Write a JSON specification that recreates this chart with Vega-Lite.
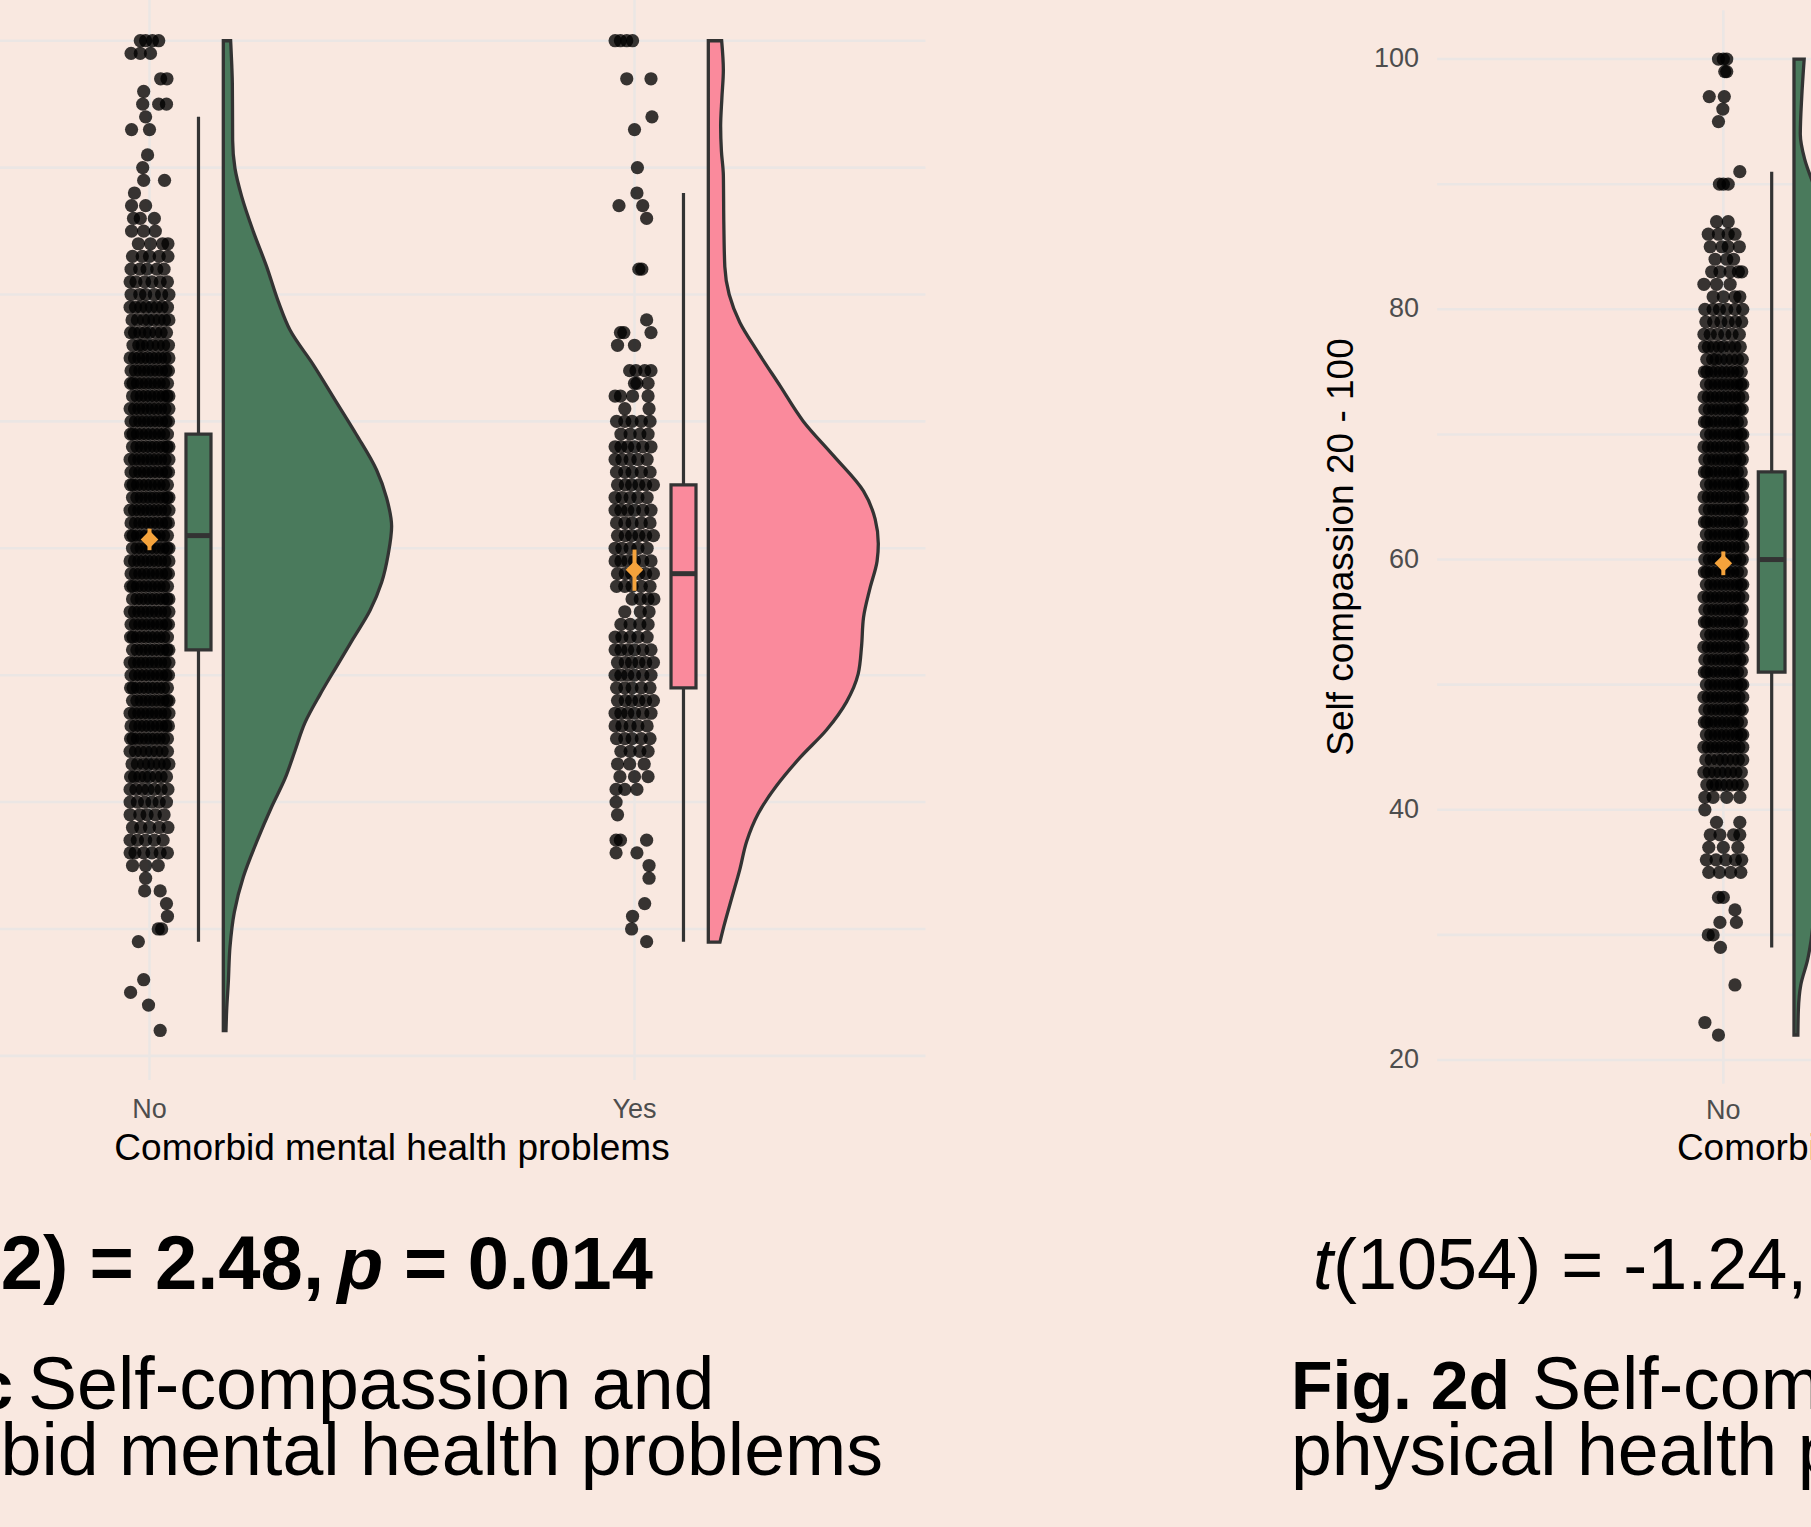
{
"$schema": "https://vega.github.io/schema/vega-lite/v6.json",
"width": 1811, "height": 1527, "autosize": "none", "padding": 0,
"background": "#F9E8E0",
"config": {"view": {"stroke": null}, "font": "Liberation Sans"},
"datasets": {
"grid": [{"v":20},{"v":30},{"v":40},{"v":50},{"v":60},{"v":70},{"v":80},{"v":90},{"v":100}],
"cno": [
{"s":100,"j":-0.019},{"s":100,"j":-0.008},{"s":100,"j":0.006},{"s":100,"j":0.019},
{"s":99,"j":-0.038},{"s":99,"j":-0.019},{"s":99,"j":0.002},
{"s":97,"j":0.023},{"s":97,"j":0.036},
{"s":96,"j":-0.012},
{"s":95,"j":-0.014},{"s":95,"j":0.019},{"s":95,"j":0.035},
{"s":94,"j":-0.008},
{"s":93,"j":-0.037},{"s":93,"j":0},
{"s":91,"j":-0.004},
{"s":90,"j":-0.014},
{"s":89,"j":-0.012},{"s":89,"j":0.031},
{"s":88,"j":-0.031},
{"s":87,"j":-0.037},{"s":87,"j":-0.008},
{"s":86,"j":-0.033},{"s":86,"j":-0.019},{"s":86,"j":0.01},
{"s":85,"j":-0.037},{"s":85,"j":-0.012},{"s":85,"j":0.012},
{"s":84,"j":-0.023},{"s":84,"j":0.002},{"s":84,"j":0.027},{"s":84,"j":0.038},
{"s":83,"j":-0.035},{"s":83,"j":-0.015},{"s":83,"j":0},{"s":83,"j":0.02},{"s":83,"j":0.038},
{"s":82,"j":-0.038},{"s":82,"j":-0.02},{"s":82,"j":-0.005},{"s":82,"j":0.015},{"s":82,"j":0.03},
{"s":81,"j":-0.04},{"s":81,"j":-0.028},{"s":81,"j":-0.01},{"s":81,"j":0.005},{"s":81,"j":0.022},{"s":81,"j":0.037},
{"s":80,"j":-0.038},{"s":80,"j":-0.02},{"s":80,"j":-0.008},{"s":80,"j":0.01},{"s":80,"j":0.025},{"s":80,"j":0.04},
{"s":79,"j":-0.04},{"s":79,"j":-0.029},{"s":79,"j":-0.018},{"s":79,"j":-0.007},{"s":79,"j":0.004},{"s":79,"j":0.015},{"s":79,"j":0.026},{"s":79,"j":0.037},
{"s":78,"j":-0.036},{"s":78,"j":-0.025},{"s":78,"j":-0.012},{"s":78,"j":-0.002},{"s":78,"j":0.009},{"s":78,"j":0.02},{"s":78,"j":0.031},{"s":78,"j":0.04},
{"s":77,"j":-0.039},{"s":77,"j":-0.031},{"s":77,"j":-0.02},{"s":77,"j":-0.009},{"s":77,"j":0},{"s":77,"j":0.013},{"s":77,"j":0.024},{"s":77,"j":0.035},
{"s":76,"j":-0.034},{"s":76,"j":-0.022},{"s":76,"j":-0.015},{"s":76,"j":-0.004},{"s":76,"j":0.007},{"s":76,"j":0.018},{"s":76,"j":0.029},{"s":76,"j":0.039},
{"s":75,"j":-0.04},{"s":75,"j":-0.031},{"s":75,"j":-0.022},{"s":75,"j":-0.013},{"s":75,"j":-0.004},{"s":75,"j":0.005},{"s":75,"j":0.014},{"s":75,"j":0.023},{"s":75,"j":0.032},{"s":75,"j":0.04},
{"s":74,"j":-0.038},{"s":74,"j":-0.029},{"s":74,"j":-0.02},{"s":74,"j":-0.011},{"s":74,"j":-0.002},{"s":74,"j":0.007},{"s":74,"j":0.016},{"s":74,"j":0.025},{"s":74,"j":0.034},{"s":74,"j":0.039},
{"s":73,"j":-0.039},{"s":73,"j":-0.034},{"s":73,"j":-0.025},{"s":73,"j":-0.016},{"s":73,"j":-0.007},{"s":73,"j":0.002},{"s":73,"j":0.011},{"s":73,"j":0.02},{"s":73,"j":0.029},{"s":73,"j":0.037},
{"s":72,"j":-0.035},{"s":72,"j":-0.026},{"s":72,"j":-0.017},{"s":72,"j":-0.008},{"s":72,"j":0.001},{"s":72,"j":0.01},{"s":72,"j":0.019},{"s":72,"j":0.028},{"s":72,"j":0.036},{"s":72,"j":0.04},
{"s":71,"j":-0.04},{"s":71,"j":-0.031},{"s":71,"j":-0.022},{"s":71,"j":-0.013},{"s":71,"j":-0.004},{"s":71,"j":0.005},{"s":71,"j":0.014},{"s":71,"j":0.023},{"s":71,"j":0.032},{"s":71,"j":0.04},
{"s":70,"j":-0.038},{"s":70,"j":-0.029},{"s":70,"j":-0.02},{"s":70,"j":-0.011},{"s":70,"j":-0.002},{"s":70,"j":0.007},{"s":70,"j":0.016},{"s":70,"j":0.025},{"s":70,"j":0.034},{"s":70,"j":0.039},
{"s":69,"j":-0.039},{"s":69,"j":-0.034},{"s":69,"j":-0.025},{"s":69,"j":-0.016},{"s":69,"j":-0.007},{"s":69,"j":0.002},{"s":69,"j":0.011},{"s":69,"j":0.02},{"s":69,"j":0.029},{"s":69,"j":0.037},
{"s":68,"j":-0.035},{"s":68,"j":-0.026},{"s":68,"j":-0.017},{"s":68,"j":-0.008},{"s":68,"j":0.001},{"s":68,"j":0.01},{"s":68,"j":0.019},{"s":68,"j":0.028},{"s":68,"j":0.036},{"s":68,"j":0.04},
{"s":67,"j":-0.04},{"s":67,"j":-0.031},{"s":67,"j":-0.022},{"s":67,"j":-0.013},{"s":67,"j":-0.004},{"s":67,"j":0.005},{"s":67,"j":0.014},{"s":67,"j":0.023},{"s":67,"j":0.032},{"s":67,"j":0.04},
{"s":66,"j":-0.038},{"s":66,"j":-0.029},{"s":66,"j":-0.02},{"s":66,"j":-0.011},{"s":66,"j":-0.002},{"s":66,"j":0.007},{"s":66,"j":0.016},{"s":66,"j":0.025},{"s":66,"j":0.034},{"s":66,"j":0.039},
{"s":65,"j":-0.039},{"s":65,"j":-0.034},{"s":65,"j":-0.025},{"s":65,"j":-0.016},{"s":65,"j":-0.007},{"s":65,"j":0.002},{"s":65,"j":0.011},{"s":65,"j":0.02},{"s":65,"j":0.029},{"s":65,"j":0.037},
{"s":64,"j":-0.035},{"s":64,"j":-0.026},{"s":64,"j":-0.017},{"s":64,"j":-0.008},{"s":64,"j":0.001},{"s":64,"j":0.01},{"s":64,"j":0.019},{"s":64,"j":0.028},{"s":64,"j":0.036},{"s":64,"j":0.04},
{"s":63,"j":-0.04},{"s":63,"j":-0.031},{"s":63,"j":-0.022},{"s":63,"j":-0.013},{"s":63,"j":-0.004},{"s":63,"j":0.005},{"s":63,"j":0.014},{"s":63,"j":0.023},{"s":63,"j":0.032},{"s":63,"j":0.04},
{"s":62,"j":-0.038},{"s":62,"j":-0.029},{"s":62,"j":-0.02},{"s":62,"j":-0.011},{"s":62,"j":-0.002},{"s":62,"j":0.007},{"s":62,"j":0.016},{"s":62,"j":0.025},{"s":62,"j":0.034},{"s":62,"j":0.039},
{"s":61,"j":-0.039},{"s":61,"j":-0.034},{"s":61,"j":-0.025},{"s":61,"j":-0.016},{"s":61,"j":-0.007},{"s":61,"j":0.002},{"s":61,"j":0.011},{"s":61,"j":0.02},{"s":61,"j":0.029},{"s":61,"j":0.037},
{"s":60,"j":-0.035},{"s":60,"j":-0.026},{"s":60,"j":-0.017},{"s":60,"j":-0.008},{"s":60,"j":0.001},{"s":60,"j":0.01},{"s":60,"j":0.019},{"s":60,"j":0.028},{"s":60,"j":0.036},{"s":60,"j":0.04},
{"s":59,"j":-0.04},{"s":59,"j":-0.031},{"s":59,"j":-0.022},{"s":59,"j":-0.013},{"s":59,"j":-0.004},{"s":59,"j":0.005},{"s":59,"j":0.014},{"s":59,"j":0.023},{"s":59,"j":0.032},{"s":59,"j":0.04},
{"s":58,"j":-0.038},{"s":58,"j":-0.029},{"s":58,"j":-0.02},{"s":58,"j":-0.011},{"s":58,"j":-0.002},{"s":58,"j":0.007},{"s":58,"j":0.016},{"s":58,"j":0.025},{"s":58,"j":0.034},{"s":58,"j":0.039},
{"s":57,"j":-0.039},{"s":57,"j":-0.034},{"s":57,"j":-0.025},{"s":57,"j":-0.016},{"s":57,"j":-0.007},{"s":57,"j":0.002},{"s":57,"j":0.011},{"s":57,"j":0.02},{"s":57,"j":0.029},{"s":57,"j":0.037},
{"s":56,"j":-0.035},{"s":56,"j":-0.026},{"s":56,"j":-0.017},{"s":56,"j":-0.008},{"s":56,"j":0.001},{"s":56,"j":0.01},{"s":56,"j":0.019},{"s":56,"j":0.028},{"s":56,"j":0.036},{"s":56,"j":0.04},
{"s":55,"j":-0.04},{"s":55,"j":-0.031},{"s":55,"j":-0.022},{"s":55,"j":-0.013},{"s":55,"j":-0.004},{"s":55,"j":0.005},{"s":55,"j":0.014},{"s":55,"j":0.023},{"s":55,"j":0.032},{"s":55,"j":0.04},
{"s":54,"j":-0.038},{"s":54,"j":-0.029},{"s":54,"j":-0.02},{"s":54,"j":-0.011},{"s":54,"j":-0.002},{"s":54,"j":0.007},{"s":54,"j":0.016},{"s":54,"j":0.025},{"s":54,"j":0.034},{"s":54,"j":0.039},
{"s":53,"j":-0.039},{"s":53,"j":-0.034},{"s":53,"j":-0.025},{"s":53,"j":-0.016},{"s":53,"j":-0.007},{"s":53,"j":0.002},{"s":53,"j":0.011},{"s":53,"j":0.02},{"s":53,"j":0.029},{"s":53,"j":0.037},
{"s":52,"j":-0.035},{"s":52,"j":-0.026},{"s":52,"j":-0.017},{"s":52,"j":-0.008},{"s":52,"j":0.001},{"s":52,"j":0.01},{"s":52,"j":0.019},{"s":52,"j":0.028},{"s":52,"j":0.036},{"s":52,"j":0.04},
{"s":51,"j":-0.04},{"s":51,"j":-0.031},{"s":51,"j":-0.022},{"s":51,"j":-0.013},{"s":51,"j":-0.004},{"s":51,"j":0.005},{"s":51,"j":0.014},{"s":51,"j":0.023},{"s":51,"j":0.032},{"s":51,"j":0.04},
{"s":50,"j":-0.038},{"s":50,"j":-0.029},{"s":50,"j":-0.02},{"s":50,"j":-0.011},{"s":50,"j":-0.002},{"s":50,"j":0.007},{"s":50,"j":0.016},{"s":50,"j":0.025},{"s":50,"j":0.034},{"s":50,"j":0.039},
{"s":49,"j":-0.039},{"s":49,"j":-0.034},{"s":49,"j":-0.025},{"s":49,"j":-0.016},{"s":49,"j":-0.007},{"s":49,"j":0.002},{"s":49,"j":0.011},{"s":49,"j":0.02},{"s":49,"j":0.029},{"s":49,"j":0.037},
{"s":48,"j":-0.035},{"s":48,"j":-0.026},{"s":48,"j":-0.017},{"s":48,"j":-0.008},{"s":48,"j":0.001},{"s":48,"j":0.01},{"s":48,"j":0.019},{"s":48,"j":0.028},{"s":48,"j":0.036},{"s":48,"j":0.04},
{"s":47,"j":-0.04},{"s":47,"j":-0.031},{"s":47,"j":-0.022},{"s":47,"j":-0.013},{"s":47,"j":-0.004},{"s":47,"j":0.005},{"s":47,"j":0.014},{"s":47,"j":0.023},{"s":47,"j":0.032},{"s":47,"j":0.04},
{"s":46,"j":-0.038},{"s":46,"j":-0.029},{"s":46,"j":-0.02},{"s":46,"j":-0.011},{"s":46,"j":-0.002},{"s":46,"j":0.007},{"s":46,"j":0.016},{"s":46,"j":0.025},{"s":46,"j":0.034},{"s":46,"j":0.039},
{"s":45,"j":-0.039},{"s":45,"j":-0.034},{"s":45,"j":-0.025},{"s":45,"j":-0.016},{"s":45,"j":-0.007},{"s":45,"j":0.002},{"s":45,"j":0.011},{"s":45,"j":0.02},{"s":45,"j":0.029},{"s":45,"j":0.037},
{"s":44,"j":-0.04},{"s":44,"j":-0.029},{"s":44,"j":-0.018},{"s":44,"j":-0.007},{"s":44,"j":0.004},{"s":44,"j":0.015},{"s":44,"j":0.026},{"s":44,"j":0.037},
{"s":43,"j":-0.036},{"s":43,"j":-0.025},{"s":43,"j":-0.012},{"s":43,"j":-0.002},{"s":43,"j":0.009},{"s":43,"j":0.02},{"s":43,"j":0.031},{"s":43,"j":0.04},
{"s":42,"j":-0.039},{"s":42,"j":-0.031},{"s":42,"j":-0.02},{"s":42,"j":-0.009},{"s":42,"j":0},{"s":42,"j":0.013},{"s":42,"j":0.024},{"s":42,"j":0.035},
{"s":41,"j":-0.04},{"s":41,"j":-0.028},{"s":41,"j":-0.015},{"s":41,"j":-0.003},{"s":41,"j":0.01},{"s":41,"j":0.024},{"s":41,"j":0.038},
{"s":40,"j":-0.04},{"s":40,"j":-0.025},{"s":40,"j":-0.01},{"s":40,"j":0.005},{"s":40,"j":0.02},{"s":40,"j":0.035},
{"s":39,"j":-0.04},{"s":39,"j":-0.02},{"s":39,"j":-0.005},{"s":39,"j":0.012},{"s":39,"j":0.03},
{"s":38,"j":-0.035},{"s":38,"j":-0.018},{"s":38,"j":0},{"s":38,"j":0.02},{"s":38,"j":0.038},
{"s":37,"j":-0.04},{"s":37,"j":-0.025},{"s":37,"j":-0.008},{"s":37,"j":0.01},{"s":37,"j":0.028},
{"s":36,"j":-0.04},{"s":36,"j":-0.03},{"s":36,"j":-0.012},{"s":36,"j":0.005},{"s":36,"j":0.022},{"s":36,"j":0.037},
{"s":35,"j":-0.035},{"s":35,"j":-0.008},{"s":35,"j":0.018},
{"s":34,"j":-0.008},
{"s":33,"j":-0.01},{"s":33,"j":0.022},
{"s":32,"j":0.035},
{"s":31,"j":0.037},
{"s":30,"j":0.018},{"s":30,"j":0.025},
{"s":29,"j":-0.023},
{"s":26,"j":-0.012},
{"s":25,"j":-0.039},
{"s":24,"j":-0.002},
{"s":22,"j":0.022}
],
"cyes": [
{"s":100,"j":-0.04},{"s":100,"j":-0.029},{"s":100,"j":-0.016},{"s":100,"j":-0.004},
{"s":97,"j":-0.016},{"s":97,"j":0.034},
{"s":94,"j":0.036},
{"s":93,"j":0},
{"s":90,"j":0.006},
{"s":88,"j":0.005},
{"s":87,"j":-0.032},{"s":87,"j":0.017},
{"s":86,"j":0.025},
{"s":82,"j":0.009},{"s":82,"j":0.015},
{"s":78,"j":0.025},
{"s":77,"j":-0.029},{"s":77,"j":-0.022},{"s":77,"j":0.034},
{"s":76,"j":-0.035},{"s":76,"j":0},
{"s":74,"j":-0.01},{"s":74,"j":0.003},{"s":74,"j":0.021},{"s":74,"j":0.034},
{"s":73,"j":0},{"s":73,"j":0.005},{"s":73,"j":0.028},
{"s":72,"j":-0.04},{"s":72,"j":-0.029},{"s":72,"j":-0.004},{"s":72,"j":0.028},
{"s":71,"j":-0.02},{"s":71,"j":0.03},
{"s":70,"j":-0.037},{"s":70,"j":-0.02},{"s":70,"j":-0.005},{"s":70,"j":0.014},{"s":70,"j":0.032},
{"s":69,"j":-0.028},{"s":69,"j":-0.009},{"s":69,"j":0.011},{"s":69,"j":0.028},
{"s":68,"j":-0.04},{"s":68,"j":-0.028},{"s":68,"j":-0.014},{"s":68,"j":0},{"s":68,"j":0.017},{"s":68,"j":0.034},
{"s":67,"j":-0.04},{"s":67,"j":-0.026},{"s":67,"j":-0.009},{"s":67,"j":0.007},{"s":67,"j":0.026},
{"s":66,"j":-0.037},{"s":66,"j":-0.02},{"s":66,"j":-0.005},{"s":66,"j":0.014},{"s":66,"j":0.032},
{"s":65,"j":-0.035},{"s":65,"j":-0.019},{"s":65,"j":-0.006},{"s":65,"j":0.009},{"s":65,"j":0.023},{"s":65,"j":0.039},
{"s":64,"j":-0.04},{"s":64,"j":-0.026},{"s":64,"j":-0.009},{"s":64,"j":0.007},{"s":64,"j":0.026},
{"s":63,"j":-0.04},{"s":63,"j":-0.028},{"s":63,"j":-0.014},{"s":63,"j":0},{"s":63,"j":0.017},{"s":63,"j":0.034},
{"s":62,"j":-0.037},{"s":62,"j":-0.02},{"s":62,"j":-0.005},{"s":62,"j":0.014},{"s":62,"j":0.032},
{"s":61,"j":-0.035},{"s":61,"j":-0.019},{"s":61,"j":-0.006},{"s":61,"j":0.009},{"s":61,"j":0.023},{"s":61,"j":0.039},
{"s":60,"j":-0.04},{"s":60,"j":-0.026},{"s":60,"j":-0.009},{"s":60,"j":0.007},{"s":60,"j":0.026},
{"s":59,"j":-0.04},{"s":59,"j":-0.028},{"s":59,"j":-0.014},{"s":59,"j":0},{"s":59,"j":0.017},{"s":59,"j":0.034},
{"s":58,"j":-0.035},{"s":58,"j":-0.019},{"s":58,"j":-0.006},{"s":58,"j":0.009},{"s":58,"j":0.023},{"s":58,"j":0.039},
{"s":57,"j":-0.037},{"s":57,"j":-0.02},{"s":57,"j":-0.005},{"s":57,"j":0.014},{"s":57,"j":0.032},
{"s":56,"j":-0.005},{"s":56,"j":0.012},{"s":56,"j":0.028},{"s":56,"j":0.04},
{"s":55,"j":-0.02},{"s":55,"j":0.012},{"s":55,"j":0.03},
{"s":54,"j":-0.028},{"s":54,"j":-0.009},{"s":54,"j":0.011},{"s":54,"j":0.028},
{"s":53,"j":-0.04},{"s":53,"j":-0.026},{"s":53,"j":-0.009},{"s":53,"j":0.007},{"s":53,"j":0.026},
{"s":52,"j":-0.04},{"s":52,"j":-0.028},{"s":52,"j":-0.014},{"s":52,"j":0},{"s":52,"j":0.017},{"s":52,"j":0.034},
{"s":51,"j":-0.035},{"s":51,"j":-0.019},{"s":51,"j":-0.006},{"s":51,"j":0.009},{"s":51,"j":0.023},{"s":51,"j":0.039},
{"s":50,"j":-0.04},{"s":50,"j":-0.028},{"s":50,"j":-0.014},{"s":50,"j":0},{"s":50,"j":0.017},{"s":50,"j":0.034},
{"s":49,"j":-0.037},{"s":49,"j":-0.02},{"s":49,"j":-0.005},{"s":49,"j":0.014},{"s":49,"j":0.032},
{"s":48,"j":-0.035},{"s":48,"j":-0.019},{"s":48,"j":-0.006},{"s":48,"j":0.009},{"s":48,"j":0.023},{"s":48,"j":0.039},
{"s":47,"j":-0.04},{"s":47,"j":-0.028},{"s":47,"j":-0.014},{"s":47,"j":0},{"s":47,"j":0.017},{"s":47,"j":0.034},
{"s":46,"j":-0.04},{"s":46,"j":-0.026},{"s":46,"j":-0.009},{"s":46,"j":0.007},{"s":46,"j":0.026},
{"s":45,"j":-0.037},{"s":45,"j":-0.02},{"s":45,"j":-0.005},{"s":45,"j":0.014},{"s":45,"j":0.032},
{"s":44,"j":-0.028},{"s":44,"j":-0.009},{"s":44,"j":0.011},{"s":44,"j":0.028},
{"s":43,"j":-0.035},{"s":43,"j":-0.01},{"s":43,"j":0.02},
{"s":42,"j":-0.03},{"s":42,"j":0},{"s":42,"j":0.028},
{"s":41,"j":-0.038},{"s":41,"j":-0.02},{"s":41,"j":0.005},
{"s":40,"j":-0.038},
{"s":39,"j":-0.035},
{"s":37,"j":-0.038},{"s":37,"j":-0.029},{"s":37,"j":0.025},
{"s":36,"j":-0.038},{"s":36,"j":0.005},
{"s":35,"j":0.03},
{"s":34,"j":0.03},
{"s":32,"j":0.021},
{"s":31,"j":-0.004},
{"s":30,"j":-0.006},
{"s":29,"j":0.025}
],
"dno": [
{"s":100,"j":-0.01},{"s":100,"j":0},{"s":100,"j":0.007},
{"s":99,"j":0.003},{"s":99,"j":0.007},
{"s":97,"j":-0.029},{"s":97,"j":0.002},
{"s":96,"j":-0.001},
{"s":95,"j":-0.01},
{"s":91,"j":0.034},
{"s":90,"j":-0.008},{"s":90,"j":0},{"s":90,"j":0.01},
{"s":87,"j":-0.014},{"s":87,"j":0.01},
{"s":86,"j":-0.031},{"s":86,"j":-0.01},{"s":86,"j":0.01},{"s":86,"j":0.024},
{"s":85,"j":-0.027},{"s":85,"j":-0.003},{"s":85,"j":0.01},{"s":85,"j":0.033},
{"s":84,"j":-0.017},{"s":84,"j":0.007},{"s":84,"j":0.021},
{"s":83,"j":-0.024},{"s":83,"j":-0.007},{"s":83,"j":0.014},{"s":83,"j":0.031},{"s":83,"j":0.038},
{"s":82,"j":-0.04},{"s":82,"j":-0.014},{"s":82,"j":0.014},
{"s":81,"j":-0.021},{"s":81,"j":0},{"s":81,"j":0.024},{"s":81,"j":0.034},
{"s":80,"j":-0.038},{"s":80,"j":-0.021},{"s":80,"j":-0.008},{"s":80,"j":0.007},{"s":80,"j":0.024},{"s":80,"j":0.04},
{"s":79,"j":-0.036},{"s":79,"j":-0.02},{"s":79,"j":-0.005},{"s":79,"j":0.01},{"s":79,"j":0.025},{"s":79,"j":0.038},
{"s":78,"j":-0.04},{"s":78,"j":-0.027},{"s":78,"j":-0.012},{"s":78,"j":0.003},{"s":78,"j":0.018},{"s":78,"j":0.033},
{"s":77,"j":-0.039},{"s":77,"j":-0.031},{"s":77,"j":-0.02},{"s":77,"j":-0.009},{"s":77,"j":0},{"s":77,"j":0.013},{"s":77,"j":0.024},{"s":77,"j":0.035},
{"s":76,"j":-0.034},{"s":76,"j":-0.022},{"s":76,"j":-0.015},{"s":76,"j":-0.004},{"s":76,"j":0.007},{"s":76,"j":0.018},{"s":76,"j":0.029},{"s":76,"j":0.039},
{"s":75,"j":-0.039},{"s":75,"j":-0.034},{"s":75,"j":-0.025},{"s":75,"j":-0.016},{"s":75,"j":-0.007},{"s":75,"j":0.002},{"s":75,"j":0.011},{"s":75,"j":0.02},{"s":75,"j":0.029},{"s":75,"j":0.037},
{"s":74,"j":-0.035},{"s":74,"j":-0.026},{"s":74,"j":-0.017},{"s":74,"j":-0.008},{"s":74,"j":0.001},{"s":74,"j":0.01},{"s":74,"j":0.019},{"s":74,"j":0.028},{"s":74,"j":0.036},{"s":74,"j":0.04},
{"s":73,"j":-0.04},{"s":73,"j":-0.031},{"s":73,"j":-0.022},{"s":73,"j":-0.013},{"s":73,"j":-0.004},{"s":73,"j":0.005},{"s":73,"j":0.014},{"s":73,"j":0.023},{"s":73,"j":0.032},{"s":73,"j":0.04},
{"s":72,"j":-0.038},{"s":72,"j":-0.029},{"s":72,"j":-0.02},{"s":72,"j":-0.011},{"s":72,"j":-0.002},{"s":72,"j":0.007},{"s":72,"j":0.016},{"s":72,"j":0.025},{"s":72,"j":0.034},{"s":72,"j":0.039},
{"s":71,"j":-0.039},{"s":71,"j":-0.034},{"s":71,"j":-0.025},{"s":71,"j":-0.016},{"s":71,"j":-0.007},{"s":71,"j":0.002},{"s":71,"j":0.011},{"s":71,"j":0.02},{"s":71,"j":0.029},{"s":71,"j":0.037},
{"s":70,"j":-0.035},{"s":70,"j":-0.026},{"s":70,"j":-0.017},{"s":70,"j":-0.008},{"s":70,"j":0.001},{"s":70,"j":0.01},{"s":70,"j":0.019},{"s":70,"j":0.028},{"s":70,"j":0.036},{"s":70,"j":0.04},
{"s":69,"j":-0.04},{"s":69,"j":-0.031},{"s":69,"j":-0.022},{"s":69,"j":-0.013},{"s":69,"j":-0.004},{"s":69,"j":0.005},{"s":69,"j":0.014},{"s":69,"j":0.023},{"s":69,"j":0.032},{"s":69,"j":0.04},
{"s":68,"j":-0.038},{"s":68,"j":-0.029},{"s":68,"j":-0.02},{"s":68,"j":-0.011},{"s":68,"j":-0.002},{"s":68,"j":0.007},{"s":68,"j":0.016},{"s":68,"j":0.025},{"s":68,"j":0.034},{"s":68,"j":0.039},
{"s":67,"j":-0.039},{"s":67,"j":-0.034},{"s":67,"j":-0.025},{"s":67,"j":-0.016},{"s":67,"j":-0.007},{"s":67,"j":0.002},{"s":67,"j":0.011},{"s":67,"j":0.02},{"s":67,"j":0.029},{"s":67,"j":0.037},
{"s":66,"j":-0.035},{"s":66,"j":-0.026},{"s":66,"j":-0.017},{"s":66,"j":-0.008},{"s":66,"j":0.001},{"s":66,"j":0.01},{"s":66,"j":0.019},{"s":66,"j":0.028},{"s":66,"j":0.036},{"s":66,"j":0.04},
{"s":65,"j":-0.04},{"s":65,"j":-0.031},{"s":65,"j":-0.022},{"s":65,"j":-0.013},{"s":65,"j":-0.004},{"s":65,"j":0.005},{"s":65,"j":0.014},{"s":65,"j":0.023},{"s":65,"j":0.032},{"s":65,"j":0.04},
{"s":64,"j":-0.038},{"s":64,"j":-0.029},{"s":64,"j":-0.02},{"s":64,"j":-0.011},{"s":64,"j":-0.002},{"s":64,"j":0.007},{"s":64,"j":0.016},{"s":64,"j":0.025},{"s":64,"j":0.034},{"s":64,"j":0.039},
{"s":63,"j":-0.039},{"s":63,"j":-0.034},{"s":63,"j":-0.025},{"s":63,"j":-0.016},{"s":63,"j":-0.007},{"s":63,"j":0.002},{"s":63,"j":0.011},{"s":63,"j":0.02},{"s":63,"j":0.029},{"s":63,"j":0.037},
{"s":62,"j":-0.035},{"s":62,"j":-0.026},{"s":62,"j":-0.017},{"s":62,"j":-0.008},{"s":62,"j":0.001},{"s":62,"j":0.01},{"s":62,"j":0.019},{"s":62,"j":0.028},{"s":62,"j":0.036},{"s":62,"j":0.04},
{"s":61,"j":-0.04},{"s":61,"j":-0.031},{"s":61,"j":-0.022},{"s":61,"j":-0.013},{"s":61,"j":-0.004},{"s":61,"j":0.005},{"s":61,"j":0.014},{"s":61,"j":0.023},{"s":61,"j":0.032},{"s":61,"j":0.04},
{"s":60,"j":-0.038},{"s":60,"j":-0.029},{"s":60,"j":-0.02},{"s":60,"j":-0.011},{"s":60,"j":-0.002},{"s":60,"j":0.007},{"s":60,"j":0.016},{"s":60,"j":0.025},{"s":60,"j":0.034},{"s":60,"j":0.039},
{"s":59,"j":-0.039},{"s":59,"j":-0.034},{"s":59,"j":-0.025},{"s":59,"j":-0.016},{"s":59,"j":-0.007},{"s":59,"j":0.002},{"s":59,"j":0.011},{"s":59,"j":0.02},{"s":59,"j":0.029},{"s":59,"j":0.037},
{"s":58,"j":-0.035},{"s":58,"j":-0.026},{"s":58,"j":-0.017},{"s":58,"j":-0.008},{"s":58,"j":0.001},{"s":58,"j":0.01},{"s":58,"j":0.019},{"s":58,"j":0.028},{"s":58,"j":0.036},{"s":58,"j":0.04},
{"s":57,"j":-0.04},{"s":57,"j":-0.031},{"s":57,"j":-0.022},{"s":57,"j":-0.013},{"s":57,"j":-0.004},{"s":57,"j":0.005},{"s":57,"j":0.014},{"s":57,"j":0.023},{"s":57,"j":0.032},{"s":57,"j":0.04},
{"s":56,"j":-0.038},{"s":56,"j":-0.029},{"s":56,"j":-0.02},{"s":56,"j":-0.011},{"s":56,"j":-0.002},{"s":56,"j":0.007},{"s":56,"j":0.016},{"s":56,"j":0.025},{"s":56,"j":0.034},{"s":56,"j":0.039},
{"s":55,"j":-0.039},{"s":55,"j":-0.034},{"s":55,"j":-0.025},{"s":55,"j":-0.016},{"s":55,"j":-0.007},{"s":55,"j":0.002},{"s":55,"j":0.011},{"s":55,"j":0.02},{"s":55,"j":0.029},{"s":55,"j":0.037},
{"s":54,"j":-0.035},{"s":54,"j":-0.026},{"s":54,"j":-0.017},{"s":54,"j":-0.008},{"s":54,"j":0.001},{"s":54,"j":0.01},{"s":54,"j":0.019},{"s":54,"j":0.028},{"s":54,"j":0.036},{"s":54,"j":0.04},
{"s":53,"j":-0.04},{"s":53,"j":-0.031},{"s":53,"j":-0.022},{"s":53,"j":-0.013},{"s":53,"j":-0.004},{"s":53,"j":0.005},{"s":53,"j":0.014},{"s":53,"j":0.023},{"s":53,"j":0.032},{"s":53,"j":0.04},
{"s":52,"j":-0.038},{"s":52,"j":-0.029},{"s":52,"j":-0.02},{"s":52,"j":-0.011},{"s":52,"j":-0.002},{"s":52,"j":0.007},{"s":52,"j":0.016},{"s":52,"j":0.025},{"s":52,"j":0.034},{"s":52,"j":0.039},
{"s":51,"j":-0.039},{"s":51,"j":-0.034},{"s":51,"j":-0.025},{"s":51,"j":-0.016},{"s":51,"j":-0.007},{"s":51,"j":0.002},{"s":51,"j":0.011},{"s":51,"j":0.02},{"s":51,"j":0.029},{"s":51,"j":0.037},
{"s":50,"j":-0.035},{"s":50,"j":-0.026},{"s":50,"j":-0.017},{"s":50,"j":-0.008},{"s":50,"j":0.001},{"s":50,"j":0.01},{"s":50,"j":0.019},{"s":50,"j":0.028},{"s":50,"j":0.036},{"s":50,"j":0.04},
{"s":49,"j":-0.04},{"s":49,"j":-0.031},{"s":49,"j":-0.022},{"s":49,"j":-0.013},{"s":49,"j":-0.004},{"s":49,"j":0.005},{"s":49,"j":0.014},{"s":49,"j":0.023},{"s":49,"j":0.032},{"s":49,"j":0.04},
{"s":48,"j":-0.038},{"s":48,"j":-0.029},{"s":48,"j":-0.02},{"s":48,"j":-0.011},{"s":48,"j":-0.002},{"s":48,"j":0.007},{"s":48,"j":0.016},{"s":48,"j":0.025},{"s":48,"j":0.034},{"s":48,"j":0.039},
{"s":47,"j":-0.039},{"s":47,"j":-0.034},{"s":47,"j":-0.025},{"s":47,"j":-0.016},{"s":47,"j":-0.007},{"s":47,"j":0.002},{"s":47,"j":0.011},{"s":47,"j":0.02},{"s":47,"j":0.029},{"s":47,"j":0.037},
{"s":46,"j":-0.035},{"s":46,"j":-0.026},{"s":46,"j":-0.017},{"s":46,"j":-0.008},{"s":46,"j":0.001},{"s":46,"j":0.01},{"s":46,"j":0.019},{"s":46,"j":0.028},{"s":46,"j":0.036},{"s":46,"j":0.04},
{"s":45,"j":-0.04},{"s":45,"j":-0.031},{"s":45,"j":-0.022},{"s":45,"j":-0.013},{"s":45,"j":-0.004},{"s":45,"j":0.005},{"s":45,"j":0.014},{"s":45,"j":0.023},{"s":45,"j":0.032},{"s":45,"j":0.04},
{"s":44,"j":-0.036},{"s":44,"j":-0.025},{"s":44,"j":-0.012},{"s":44,"j":-0.002},{"s":44,"j":0.009},{"s":44,"j":0.02},{"s":44,"j":0.031},{"s":44,"j":0.04},
{"s":43,"j":-0.04},{"s":43,"j":-0.029},{"s":43,"j":-0.018},{"s":43,"j":-0.007},{"s":43,"j":0.004},{"s":43,"j":0.015},{"s":43,"j":0.026},{"s":43,"j":0.037},
{"s":42,"j":-0.034},{"s":42,"j":-0.022},{"s":42,"j":-0.015},{"s":42,"j":-0.004},{"s":42,"j":0.007},{"s":42,"j":0.018},{"s":42,"j":0.029},{"s":42,"j":0.039},
{"s":41,"j":-0.038},{"s":41,"j":-0.021},{"s":41,"j":0.007},{"s":41,"j":0.034},
{"s":40,"j":-0.038},
{"s":39,"j":-0.014},{"s":39,"j":0.034},
{"s":38,"j":-0.027},{"s":38,"j":-0.007},{"s":38,"j":0.021},{"s":38,"j":0.034},
{"s":37,"j":-0.03},{"s":37,"j":0},{"s":37,"j":0.03},
{"s":36,"j":-0.035},{"s":36,"j":-0.015},{"s":36,"j":0.005},{"s":36,"j":0.025},{"s":36,"j":0.038},
{"s":35,"j":-0.03},{"s":35,"j":-0.008},{"s":35,"j":0.015},{"s":35,"j":0.036},
{"s":33,"j":-0.01},{"s":33,"j":0},
{"s":32,"j":0.024},
{"s":31,"j":-0.007},{"s":31,"j":0.027},
{"s":30,"j":-0.031},{"s":30,"j":-0.021},
{"s":29,"j":-0.006},
{"s":26,"j":0.024},
{"s":23,"j":-0.038},
{"s":22,"j":-0.01}
],
"vcno": [{"s":100,"w":0.0151},{"s":98,"w":0.0175},{"s":96.6,"w":0.0186},{"s":94,"w":0.019},{"s":92.15,"w":0.0192},{"s":89.94,"w":0.024},{"s":87.73,"w":0.0378},{"s":84.96,"w":0.0619},{"s":82.2,"w":0.0893},{"s":79.44,"w":0.1134},{"s":77.2,"w":0.1375},{"s":74.46,"w":0.1856},{"s":71.7,"w":0.2302},{"s":68.93,"w":0.2749},{"s":66.17,"w":0.316},{"s":63.95,"w":0.3368},{"s":61.74,"w":0.347},{"s":59.53,"w":0.34},{"s":57.32,"w":0.3265},{"s":55.1,"w":0.3024},{"s":52.9,"w":0.268},{"s":50.7,"w":0.2337},{"s":48.47,"w":0.1993},{"s":46.26,"w":0.1684},{"s":44.05,"w":0.1478},{"s":41.84,"w":0.1271},{"s":39.63,"w":0.0997},{"s":36.86,"w":0.0687},{"s":34.1,"w":0.0412},{"s":31.33,"w":0.0227},{"s":28.57,"w":0.0137},{"s":25.8,"w":0.0103},{"s":23.6,"w":0.0069},{"s":22,"w":0.0055}],
"vcyes": [{"s":100,"w":0.0275},{"s":97.7,"w":0.031},{"s":95.5,"w":0.028},{"s":93.26,"w":0.0254},{"s":91.3,"w":0.027},{"s":89.4,"w":0.031},{"s":85.5,"w":0.032},{"s":82.2,"w":0.034},{"s":80,"w":0.043},{"s":77.8,"w":0.065},{"s":75.6,"w":0.1},{"s":72.8,"w":0.148},{"s":70,"w":0.196},{"s":67.3,"w":0.258},{"s":64.5,"w":0.32},{"s":62.3,"w":0.344},{"s":60.36,"w":0.3505},{"s":59,"w":0.348},{"s":56.8,"w":0.333},{"s":54.55,"w":0.32},{"s":52.3,"w":0.316},{"s":50.1,"w":0.309},{"s":47.9,"w":0.285},{"s":45.7,"w":0.244},{"s":43.5,"w":0.189},{"s":41.3,"w":0.141},{"s":39.1,"w":0.103},{"s":36.9,"w":0.079},{"s":34.7,"w":0.065},{"s":32.4,"w":0.048},{"s":30.2,"w":0.032},{"s":28.96,"w":0.024}],
"vdno": [{"s":100,"w":0.021},{"s":97,"w":0.016},{"s":94,"w":0.013},{"s":92,"w":0.022},{"s":90,"w":0.04},{"s":88,"w":0.06},{"s":85,"w":0.09},{"s":82,"w":0.12},{"s":79,"w":0.15},{"s":76,"w":0.19},{"s":73,"w":0.24},{"s":70,"w":0.28},{"s":67,"w":0.32},{"s":64,"w":0.345},{"s":61,"w":0.355},{"s":58,"w":0.35},{"s":55,"w":0.33},{"s":52,"w":0.3},{"s":49,"w":0.26},{"s":46,"w":0.21},{"s":43,"w":0.16},{"s":40,"w":0.11},{"s":37,"w":0.08},{"s":34,"w":0.055},{"s":31,"w":0.04},{"s":29.5,"w":0.035},{"s":28,"w":0.028},{"s":26,"w":0.014},{"s":24,"w":0.009},{"s":22,"w":0.008}]
},
"layer": [
{
"layer": [
{"data": {"name": "grid"}, "mark": {"type": "rule", "color": "#EBE6E4", "strokeWidth": 2.6},
 "encoding": {"y": {"field": "v", "type": "quantitative", "scale": {"domain": [-17.13, 103.21], "nice": false, "zero": false}, "axis": null},
  "x": {"datum": 0.4, "type": "quantitative", "scale": {"domain": [0.69175, 4.42577], "nice": false, "zero": false}, "axis": null}, "x2": {"datum": 2.6}}},
{"data": {"values": [{"pos": 1}, {"pos": 2}]}, "mark": {"type": "rule", "color": "#EBE6E4", "strokeWidth": 2.6},
 "encoding": {"x": {"field": "pos", "type": "quantitative", "scale": {"domain": [0.69175, 4.42577], "nice": false, "zero": false}, "axis": null},
  "y": {"datum": 18.1, "type": "quantitative", "scale": {"domain": [-17.13, 103.21], "nice": false, "zero": false}, "axis": null}, "y2": {"datum": 103.9}}},
{"data": {"name": "vcno"}, "mark": {"type": "area", "orient": "horizontal", "interpolate": "monotone", "fill": "#4A7A5C", "stroke": "#333333", "strokeWidth": 3.3},
 "encoding": {"y": {"field": "s", "type": "quantitative", "scale": {"domain": [-17.13, 103.21], "nice": false, "zero": false}, "axis": null},
  "x": {"datum": 1.1522, "type": "quantitative", "scale": {"domain": [0.69175, 4.42577], "nice": false, "zero": false}, "axis": null}, "x2": {"datum": 1.1522},
  "xOffset": {"field": "w", "type": "quantitative", "scale": {"domain": [0, 1], "range": [0, 485]}}}},
{"data": {"name": "vcyes"}, "mark": {"type": "area", "orient": "horizontal", "interpolate": "monotone", "fill": "#FA8A9C", "stroke": "#333333", "strokeWidth": 3.3},
 "encoding": {"y": {"field": "s", "type": "quantitative", "scale": {"domain": [-17.13, 103.21], "nice": false, "zero": false}, "axis": null},
  "x": {"datum": 2.1522, "type": "quantitative", "scale": {"domain": [0.69175, 4.42577], "nice": false, "zero": false}, "axis": null}, "x2": {"datum": 2.1522},
  "xOffset": {"field": "w", "type": "quantitative", "scale": {"domain": [0, 1], "range": [0, 485]}}}},
{"data": {"name": "cno"}, "mark": {"type": "circle", "size": 175, "color": "#000000", "opacity": 0.78},
 "encoding": {"y": {"field": "s", "type": "quantitative", "scale": {"domain": [-17.13, 103.21], "nice": false, "zero": false}, "axis": null},
  "x": {"datum": 1, "type": "quantitative", "scale": {"domain": [0.69175, 4.42577], "nice": false, "zero": false}, "axis": null},
  "xOffset": {"field": "j", "type": "quantitative", "scale": {"domain": [0, 1], "range": [0, 485]}}}},
{"data": {"name": "cyes"}, "mark": {"type": "circle", "size": 175, "color": "#000000", "opacity": 0.78},
 "encoding": {"y": {"field": "s", "type": "quantitative", "scale": {"domain": [-17.13, 103.21], "nice": false, "zero": false}, "axis": null},
  "x": {"datum": 2, "type": "quantitative", "scale": {"domain": [0.69175, 4.42577], "nice": false, "zero": false}, "axis": null},
  "xOffset": {"field": "j", "type": "quantitative", "scale": {"domain": [0, 1], "range": [0, 485]}}}},
{"data": {"values": [{"lower": 29, "q1": 52, "median": 61, "q3": 69, "upper": 94}]},
 "layer": [
  {"mark": {"type": "rule", "color": "#333333", "strokeWidth": 3.2},
   "encoding": {"x": {"datum": 1.101, "type": "quantitative", "scale": {"domain": [0.69175, 4.42577], "nice": false, "zero": false}, "axis": null},
    "y": {"field": "lower", "type": "quantitative", "scale": {"domain": [-17.13, 103.21], "nice": false, "zero": false}, "axis": null}, "y2": {"field": "upper"}}},
  {"mark": {"type": "rect", "fill": "#4A7A5C", "stroke": "#333333", "strokeWidth": 3.2},
   "encoding": {"x": {"datum": 1.0752, "type": "quantitative", "scale": {"domain": [0.69175, 4.42577], "nice": false, "zero": false}, "axis": null}, "x2": {"datum": 1.1268},
    "y": {"field": "q1", "type": "quantitative", "scale": {"domain": [-17.13, 103.21], "nice": false, "zero": false}, "axis": null}, "y2": {"field": "q3"}}},
  {"mark": {"type": "rule", "color": "#333333", "strokeWidth": 5},
   "encoding": {"x": {"datum": 1.0752, "type": "quantitative", "scale": {"domain": [0.69175, 4.42577], "nice": false, "zero": false}, "axis": null}, "x2": {"datum": 1.1268},
    "y": {"field": "median", "type": "quantitative", "scale": {"domain": [-17.13, 103.21], "nice": false, "zero": false}, "axis": null}}}
 ]},
{"data": {"values": [{"lower": 29, "q1": 49, "median": 58, "q3": 65, "upper": 88}]},
 "layer": [
  {"mark": {"type": "rule", "color": "#333333", "strokeWidth": 3.2},
   "encoding": {"x": {"datum": 2.101, "type": "quantitative", "scale": {"domain": [0.69175, 4.42577], "nice": false, "zero": false}, "axis": null},
    "y": {"field": "lower", "type": "quantitative", "scale": {"domain": [-17.13, 103.21], "nice": false, "zero": false}, "axis": null}, "y2": {"field": "upper"}}},
  {"mark": {"type": "rect", "fill": "#FA8A9C", "stroke": "#333333", "strokeWidth": 3.2},
   "encoding": {"x": {"datum": 2.0753, "type": "quantitative", "scale": {"domain": [0.69175, 4.42577], "nice": false, "zero": false}, "axis": null}, "x2": {"datum": 2.1268},
    "y": {"field": "q1", "type": "quantitative", "scale": {"domain": [-17.13, 103.21], "nice": false, "zero": false}, "axis": null}, "y2": {"field": "q3"}}},
  {"mark": {"type": "rule", "color": "#333333", "strokeWidth": 5},
   "encoding": {"x": {"datum": 2.0753, "type": "quantitative", "scale": {"domain": [0.69175, 4.42577], "nice": false, "zero": false}, "axis": null}, "x2": {"datum": 2.1268},
    "y": {"field": "median", "type": "quantitative", "scale": {"domain": [-17.13, 103.21], "nice": false, "zero": false}, "axis": null}}}
 ]},
{"data": {"values": [{"mean": 60.7, "lo": 59.85, "hi": 61.55}]},
 "layer": [
  {"mark": {"type": "rule", "color": "#F5A33C", "strokeWidth": 4},
   "encoding": {"x": {"datum": 1, "type": "quantitative", "scale": {"domain": [0.69175, 4.42577], "nice": false, "zero": false}, "axis": null},
    "y": {"field": "lo", "type": "quantitative", "scale": {"domain": [-17.13, 103.21], "nice": false, "zero": false}, "axis": null}, "y2": {"field": "hi"}}},
  {"mark": {"type": "point", "shape": "diamond", "filled": true, "size": 310, "color": "#F5A33C", "opacity": 1},
   "encoding": {"x": {"datum": 1, "type": "quantitative", "scale": {"domain": [0.69175, 4.42577], "nice": false, "zero": false}, "axis": null},
    "y": {"field": "mean", "type": "quantitative", "scale": {"domain": [-17.13, 103.21], "nice": false, "zero": false}, "axis": null}}}
 ]},
{"data": {"values": [{"mean": 58.3, "lo": 56.65, "hi": 59.9}]},
 "layer": [
  {"mark": {"type": "rule", "color": "#F5A33C", "strokeWidth": 4},
   "encoding": {"x": {"datum": 2, "type": "quantitative", "scale": {"domain": [0.69175, 4.42577], "nice": false, "zero": false}, "axis": null},
    "y": {"field": "lo", "type": "quantitative", "scale": {"domain": [-17.13, 103.21], "nice": false, "zero": false}, "axis": null}, "y2": {"field": "hi"}}},
  {"mark": {"type": "point", "shape": "diamond", "filled": true, "size": 310, "color": "#F5A33C", "opacity": 1},
   "encoding": {"x": {"datum": 2, "type": "quantitative", "scale": {"domain": [0.69175, 4.42577], "nice": false, "zero": false}, "axis": null},
    "y": {"field": "mean", "type": "quantitative", "scale": {"domain": [-17.13, 103.21], "nice": false, "zero": false}, "axis": null}}}
 ]},
{"data": {"values": [{"pos": 1, "lab": "No"}, {"pos": 2, "lab": "Yes"}]},
 "mark": {"type": "text", "font": "Liberation Sans", "fontSize": 27, "color": "#4D4D4D", "align": "center", "baseline": "middle"},
 "encoding": {"x": {"field": "pos", "type": "quantitative", "scale": {"domain": [0.69175, 4.42577], "nice": false, "zero": false}, "axis": null},
  "y": {"datum": 15.73, "type": "quantitative", "scale": {"domain": [-17.13, 103.21], "nice": false, "zero": false}, "axis": null}, "text": {"field": "lab"}}},
{"data": {"values": [{"lab": "Comorbid mental health problems"}]},
 "mark": {"type": "text", "font": "Liberation Sans", "fontSize": 37, "color": "#000000", "align": "center", "baseline": "middle"},
 "encoding": {"x": {"datum": 1.5, "type": "quantitative", "scale": {"domain": [0.69175, 4.42577], "nice": false, "zero": false}, "axis": null},
  "y": {"datum": 12.655, "type": "quantitative", "scale": {"domain": [-17.13, 103.21], "nice": false, "zero": false}, "axis": null}, "text": {"field": "lab"}}},
{"data": {"values": [{"lab": "t"}]},
 "mark": {"type": "text", "font": "Liberation Sans", "fontSize": 75, "fontWeight": "bold", "fontStyle": "italic", "color": "#000000", "align": "right", "baseline": "alphabetic"},
 "encoding": {"x": {"datum": 0.4, "type": "quantitative", "scale": {"domain": [0.69175, 4.42577], "nice": false, "zero": false}, "axis": null},
  "y": {"datum": 1.646, "type": "quantitative", "scale": {"domain": [-17.13, 103.21], "nice": false, "zero": false}, "axis": null}, "text": {"field": "lab"}}},
{"data": {"values": [{"lab": "(1052) = 2.48,"}]},
 "mark": {"type": "text", "font": "Liberation Sans", "fontSize": 76, "fontWeight": "bold", "color": "#000000", "align": "right", "baseline": "alphabetic"},
 "encoding": {"x": {"datum": 1.3598, "type": "quantitative", "scale": {"domain": [0.69175, 4.42577], "nice": false, "zero": false}, "axis": null},
  "y": {"datum": 1.646, "type": "quantitative", "scale": {"domain": [-17.13, 103.21], "nice": false, "zero": false}, "axis": null}, "text": {"field": "lab"}}},
{"data": {"values": [{"lab": "p"}]},
 "mark": {"type": "text", "font": "Liberation Sans", "fontSize": 75, "fontWeight": "bold", "fontStyle": "italic", "color": "#000000", "align": "left", "baseline": "alphabetic"},
 "encoding": {"x": {"datum": 1.3875, "type": "quantitative", "scale": {"domain": [0.69175, 4.42577], "nice": false, "zero": false}, "axis": null},
  "y": {"datum": 1.646, "type": "quantitative", "scale": {"domain": [-17.13, 103.21], "nice": false, "zero": false}, "axis": null}, "text": {"field": "lab"}}},
{"data": {"values": [{"lab": "= 0.014"}]},
 "mark": {"type": "text", "font": "Liberation Sans", "fontSize": 74, "fontWeight": "bold", "color": "#000000", "align": "left", "baseline": "alphabetic"},
 "encoding": {"x": {"datum": 1.5245, "type": "quantitative", "scale": {"domain": [0.69175, 4.42577], "nice": false, "zero": false}, "axis": null},
  "y": {"datum": 1.646, "type": "quantitative", "scale": {"domain": [-17.13, 103.21], "nice": false, "zero": false}, "axis": null}, "text": {"field": "lab"}}},
{"data": {"values": [{"lab": "t"}]},
 "mark": {"type": "text", "font": "Liberation Sans", "fontSize": 72, "fontStyle": "italic", "color": "#000000", "align": "left", "baseline": "alphabetic"},
 "encoding": {"x": {"datum": 3.399, "type": "quantitative", "scale": {"domain": [0.69175, 4.42577], "nice": false, "zero": false}, "axis": null},
  "y": {"datum": 1.646, "type": "quantitative", "scale": {"domain": [-17.13, 103.21], "nice": false, "zero": false}, "axis": null}, "text": {"field": "lab"}}},
{"data": {"values": [{"lab": "(1054) = -1.24,"}]},
 "mark": {"type": "text", "font": "Liberation Sans", "fontSize": 72, "color": "#000000", "align": "left", "baseline": "alphabetic"},
 "encoding": {"x": {"datum": 3.4402, "type": "quantitative", "scale": {"domain": [0.69175, 4.42577], "nice": false, "zero": false}, "axis": null},
  "y": {"datum": 1.646, "type": "quantitative", "scale": {"domain": [-17.13, 103.21], "nice": false, "zero": false}, "axis": null}, "text": {"field": "lab"}}},
{"data": {"values": [{"lab": "p"}]},
 "mark": {"type": "text", "font": "Liberation Sans", "fontSize": 72, "fontStyle": "italic", "color": "#000000", "align": "left", "baseline": "alphabetic"},
 "encoding": {"x": {"datum": 4.458, "type": "quantitative", "scale": {"domain": [0.69175, 4.42577], "nice": false, "zero": false}, "axis": null},
  "y": {"datum": 1.646, "type": "quantitative", "scale": {"domain": [-17.13, 103.21], "nice": false, "zero": false}, "axis": null}, "text": {"field": "lab"}}},
{"data": {"values": [{"lab": "= 0.215"}]},
 "mark": {"type": "text", "font": "Liberation Sans", "fontSize": 72, "color": "#000000", "align": "left", "baseline": "alphabetic"},
 "encoding": {"x": {"datum": 4.59, "type": "quantitative", "scale": {"domain": [0.69175, 4.42577], "nice": false, "zero": false}, "axis": null},
  "y": {"datum": 1.646, "type": "quantitative", "scale": {"domain": [-17.13, 103.21], "nice": false, "zero": false}, "axis": null}, "text": {"field": "lab"}}},
{"data": {"values": [{"lab": "Fig. 2c"}]},
 "mark": {"type": "text", "font": "Liberation Sans", "fontSize": 68, "fontWeight": "bold", "color": "#000000", "align": "right", "baseline": "alphabetic"},
 "encoding": {"x": {"datum": 0.7186, "type": "quantitative", "scale": {"domain": [0.69175, 4.42577], "nice": false, "zero": false}, "axis": null},
  "y": {"datum": -7.81, "type": "quantitative", "scale": {"domain": [-17.13, 103.21], "nice": false, "zero": false}, "axis": null}, "text": {"field": "lab"}}},
{"data": {"values": [{"lab": "Self-compassion and"}]},
 "mark": {"type": "text", "font": "Liberation Sans", "fontSize": 73.5, "color": "#000000", "align": "left", "baseline": "alphabetic"},
 "encoding": {"x": {"datum": 0.7495, "type": "quantitative", "scale": {"domain": [0.69175, 4.42577], "nice": false, "zero": false}, "axis": null},
  "y": {"datum": -7.81, "type": "quantitative", "scale": {"domain": [-17.13, 103.21], "nice": false, "zero": false}, "axis": null}, "text": {"field": "lab"}}},
{"data": {"values": [{"lab": "comorbid mental health problems"}]},
 "mark": {"type": "text", "font": "Liberation Sans", "fontSize": 73.5, "color": "#000000", "align": "right", "baseline": "alphabetic"},
 "encoding": {"x": {"datum": 2.5124, "type": "quantitative", "scale": {"domain": [0.69175, 4.42577], "nice": false, "zero": false}, "axis": null},
  "y": {"datum": -13.04, "type": "quantitative", "scale": {"domain": [-17.13, 103.21], "nice": false, "zero": false}, "axis": null}, "text": {"field": "lab"}}},
{"data": {"values": [{"lab": "Fig. 2d"}]},
 "mark": {"type": "text", "font": "Liberation Sans", "fontSize": 68, "fontWeight": "bold", "color": "#000000", "align": "left", "baseline": "alphabetic"},
 "encoding": {"x": {"datum": 3.3536, "type": "quantitative", "scale": {"domain": [0.69175, 4.42577], "nice": false, "zero": false}, "axis": null},
  "y": {"datum": -7.81, "type": "quantitative", "scale": {"domain": [-17.13, 103.21], "nice": false, "zero": false}, "axis": null}, "text": {"field": "lab"}}},
{"data": {"values": [{"lab": "Self-compassion and comorbid"}]},
 "mark": {"type": "text", "font": "Liberation Sans", "fontSize": 73.5, "color": "#000000", "align": "left", "baseline": "alphabetic"},
 "encoding": {"x": {"datum": 3.8505, "type": "quantitative", "scale": {"domain": [0.69175, 4.42577], "nice": false, "zero": false}, "axis": null},
  "y": {"datum": -7.81, "type": "quantitative", "scale": {"domain": [-17.13, 103.21], "nice": false, "zero": false}, "axis": null}, "text": {"field": "lab"}}},
{"data": {"values": [{"lab": "physical health problems"}]},
 "mark": {"type": "text", "font": "Liberation Sans", "fontSize": 73.5, "color": "#000000", "align": "left", "baseline": "alphabetic"},
 "encoding": {"x": {"datum": 3.3536, "type": "quantitative", "scale": {"domain": [0.69175, 4.42577], "nice": false, "zero": false}, "axis": null},
  "y": {"datum": -13.04, "type": "quantitative", "scale": {"domain": [-17.13, 103.21], "nice": false, "zero": false}, "axis": null}, "text": {"field": "lab"}}}
]
},
{
"layer": [
{"data": {"name": "grid"}, "mark": {"type": "rule", "color": "#EBE6E4", "strokeWidth": 2.6},
 "encoding": {"y": {"field": "v", "type": "quantitative", "scale": {"domain": [-17.32, 104.72], "nice": false, "zero": false}, "axis": null},
  "x": {"datum": 3.655, "type": "quantitative", "scale": {"domain": [0.69175, 4.42577], "nice": false, "zero": false}, "axis": null}, "x2": {"datum": 5.9}}},
{"data": {"values": [{"pos": 4.245}]}, "mark": {"type": "rule", "color": "#EBE6E4", "strokeWidth": 2.6},
 "encoding": {"x": {"field": "pos", "type": "quantitative", "scale": {"domain": [0.69175, 4.42577], "nice": false, "zero": false}, "axis": null},
  "y": {"datum": 18.1, "type": "quantitative", "scale": {"domain": [-17.32, 104.72], "nice": false, "zero": false}, "axis": null}, "y2": {"datum": 103.9}}},
{"data": {"name": "vdno"}, "mark": {"type": "area", "orient": "horizontal", "interpolate": "monotone", "fill": "#4A7A5C", "stroke": "#333333", "strokeWidth": 3.3},
 "encoding": {"y": {"field": "s", "type": "quantitative", "scale": {"domain": [-17.32, 104.72], "nice": false, "zero": false}, "axis": null},
  "x": {"datum": 4.3907, "type": "quantitative", "scale": {"domain": [0.69175, 4.42577], "nice": false, "zero": false}, "axis": null}, "x2": {"datum": 4.3907},
  "xOffset": {"field": "w", "type": "quantitative", "scale": {"domain": [0, 1], "range": [0, 485]}}}},
{"data": {"name": "dno"}, "mark": {"type": "circle", "size": 175, "color": "#000000", "opacity": 0.78},
 "encoding": {"y": {"field": "s", "type": "quantitative", "scale": {"domain": [-17.32, 104.72], "nice": false, "zero": false}, "axis": null},
  "x": {"datum": 4.245, "type": "quantitative", "scale": {"domain": [0.69175, 4.42577], "nice": false, "zero": false}, "axis": null},
  "xOffset": {"field": "j", "type": "quantitative", "scale": {"domain": [0, 1], "range": [0, 485]}}}},
{"data": {"values": [{"lower": 29, "q1": 51, "median": 60, "q3": 67, "upper": 91}]},
 "layer": [
  {"mark": {"type": "rule", "color": "#333333", "strokeWidth": 3.2},
   "encoding": {"x": {"datum": 4.3447, "type": "quantitative", "scale": {"domain": [0.69175, 4.42577], "nice": false, "zero": false}, "axis": null},
    "y": {"field": "lower", "type": "quantitative", "scale": {"domain": [-17.32, 104.72], "nice": false, "zero": false}, "axis": null}, "y2": {"field": "upper"}}},
  {"mark": {"type": "rect", "fill": "#4A7A5C", "stroke": "#333333", "strokeWidth": 3.2},
   "encoding": {"x": {"datum": 4.3171, "type": "quantitative", "scale": {"domain": [0.69175, 4.42577], "nice": false, "zero": false}, "axis": null}, "x2": {"datum": 4.3722},
    "y": {"field": "q1", "type": "quantitative", "scale": {"domain": [-17.32, 104.72], "nice": false, "zero": false}, "axis": null}, "y2": {"field": "q3"}}},
  {"mark": {"type": "rule", "color": "#333333", "strokeWidth": 5},
   "encoding": {"x": {"datum": 4.3171, "type": "quantitative", "scale": {"domain": [0.69175, 4.42577], "nice": false, "zero": false}, "axis": null}, "x2": {"datum": 4.3722},
    "y": {"field": "median", "type": "quantitative", "scale": {"domain": [-17.32, 104.72], "nice": false, "zero": false}, "axis": null}}}
 ]},
{"data": {"values": [{"mean": 59.7, "lo": 58.75, "hi": 60.65}]},
 "layer": [
  {"mark": {"type": "rule", "color": "#F5A33C", "strokeWidth": 4},
   "encoding": {"x": {"datum": 4.245, "type": "quantitative", "scale": {"domain": [0.69175, 4.42577], "nice": false, "zero": false}, "axis": null},
    "y": {"field": "lo", "type": "quantitative", "scale": {"domain": [-17.32, 104.72], "nice": false, "zero": false}, "axis": null}, "y2": {"field": "hi"}}},
  {"mark": {"type": "point", "shape": "diamond", "filled": true, "size": 310, "color": "#F5A33C", "opacity": 1},
   "encoding": {"x": {"datum": 4.245, "type": "quantitative", "scale": {"domain": [0.69175, 4.42577], "nice": false, "zero": false}, "axis": null},
    "y": {"field": "mean", "type": "quantitative", "scale": {"domain": [-17.32, 104.72], "nice": false, "zero": false}, "axis": null}}}
 ]},
{"data": {"values": [{"v": 20}, {"v": 40}, {"v": 60}, {"v": 80}, {"v": 100}]},
 "mark": {"type": "text", "font": "Liberation Sans", "fontSize": 27, "color": "#4D4D4D", "align": "right", "baseline": "middle"},
 "encoding": {"x": {"datum": 3.6175, "type": "quantitative", "scale": {"domain": [0.69175, 4.42577], "nice": false, "zero": false}, "axis": null},
  "y": {"field": "v", "type": "quantitative", "scale": {"domain": [-17.32, 104.72], "nice": false, "zero": false}, "axis": null}, "text": {"field": "v", "type": "quantitative"}}},
{"data": {"values": [{"lab": "Self compassion 20 - 100"}]},
 "mark": {"type": "text", "font": "Liberation Sans", "fontSize": 37, "color": "#000000", "align": "center", "baseline": "middle", "angle": 270},
 "encoding": {"x": {"datum": 3.4588, "type": "quantitative", "scale": {"domain": [0.69175, 4.42577], "nice": false, "zero": false}, "axis": null},
  "y": {"datum": 61.0, "type": "quantitative", "scale": {"domain": [-17.32, 104.72], "nice": false, "zero": false}, "axis": null}, "text": {"field": "lab"}}},
{"data": {"values": [{"pos": 4.245, "lab": "No"}, {"pos": 5.245, "lab": "Yes"}]},
 "mark": {"type": "text", "font": "Liberation Sans", "fontSize": 27, "color": "#4D4D4D", "align": "center", "baseline": "middle"},
 "encoding": {"x": {"field": "pos", "type": "quantitative", "scale": {"domain": [0.69175, 4.42577], "nice": false, "zero": false}, "axis": null},
  "y": {"datum": 15.92, "type": "quantitative", "scale": {"domain": [-17.32, 104.72], "nice": false, "zero": false}, "axis": null}, "text": {"field": "lab"}}},
{"data": {"values": [{"lab": "Comorbid physical health problems"}]},
 "mark": {"type": "text", "font": "Liberation Sans", "fontSize": 37, "color": "#000000", "align": "center", "baseline": "middle"},
 "encoding": {"x": {"datum": 4.745, "type": "quantitative", "scale": {"domain": [0.69175, 4.42577], "nice": false, "zero": false}, "axis": null},
  "y": {"datum": 12.89, "type": "quantitative", "scale": {"domain": [-17.32, 104.72], "nice": false, "zero": false}, "axis": null}, "text": {"field": "lab"}}}
]
}
],
"resolve": {"scale": {"y": "independent"}}
}
